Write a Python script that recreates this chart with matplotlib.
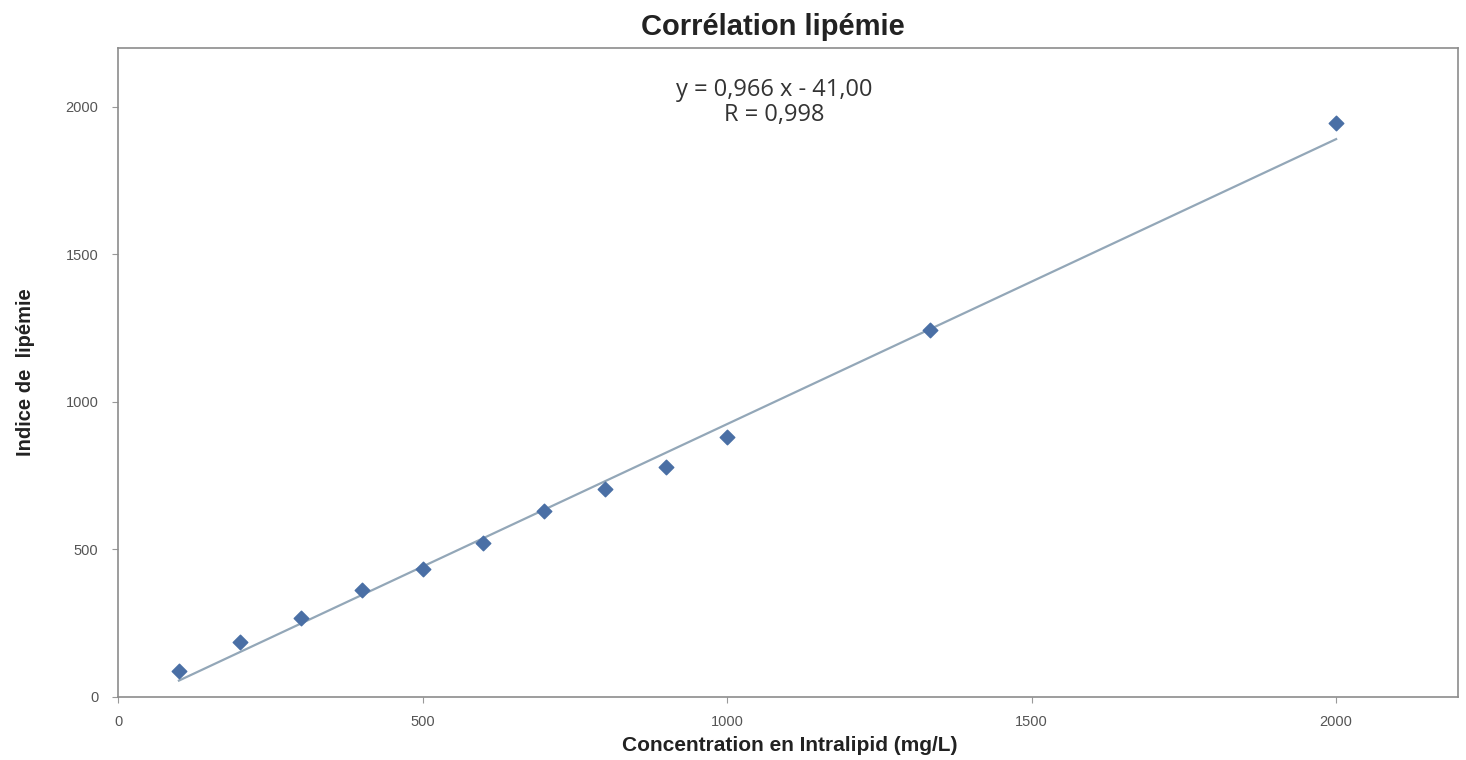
import numpy as np
import matplotlib.pyplot as plt

# données
concentration = [100, 200, 300, 400, 500, 600, 700, 800, 900, 1000, 1333, 2000]
indice = [88, 186, 268, 363, 434, 522, 630, 705, 780, 881, 1244, 1946]

pente = 0.966
ordonnee = -41.00
x_tendance = [100, 2000]

plt.rcParams['font.family'] = ['Liberation Sans', 'DejaVu Sans']

fig = plt.figure(figsize=(14.66, 7.6), dpi=100)
ax = fig.add_axes([0.0805, 0.0829, 0.914, 0.854])

xt = np.array(x_tendance)
ax.plot(xt, pente * xt + ordonnee, color='#93a7b8', linewidth=1.6, zorder=2)
ax.scatter(concentration, indice, marker='D', s=55, color='#4a6fa5', zorder=3)

ax.set_xlim(0, 2200)
ax.set_ylim(0, 2200)
ax.set_xticks([0, 500, 1000, 1500, 2000])
ax.set_yticks([0, 500, 1000, 1500, 2000])
ax.tick_params(axis='both', labelsize=10.5, labelcolor='#555555', color='#999999',
               length=4, width=0.8)
ax.tick_params(axis='x', pad=9)
ax.tick_params(axis='y', pad=10)
for s in ax.spines.values():
    s.set_color('#8c8c8c')
    s.set_linewidth(1.2)

fig.text(0.527, 0.965, 'Corrélation lipémie', fontsize=21, fontweight='bold',
         ha='center', va='center', color='#222222')
fig.text(0.5385, 0.019, 'Concentration en Intralipid (mg/L)', fontsize=15,
         fontweight='bold', color='#222222', ha='center', va='center')
ax.set_ylabel('Indice de  lipémie', fontsize=14.5, fontweight='bold',
              color='#222222', labelpad=22)

ax.text(0.4896, 0.916, 'y = 0,966 x - 41,00\nR = 0,998', transform=ax.transAxes,
        ha='center', va='center', fontsize=17, color='#333333', linespacing=1.1,
        family=['Open Sans', 'Liberation Sans'])

fig.savefig('out.png', dpi=100)
